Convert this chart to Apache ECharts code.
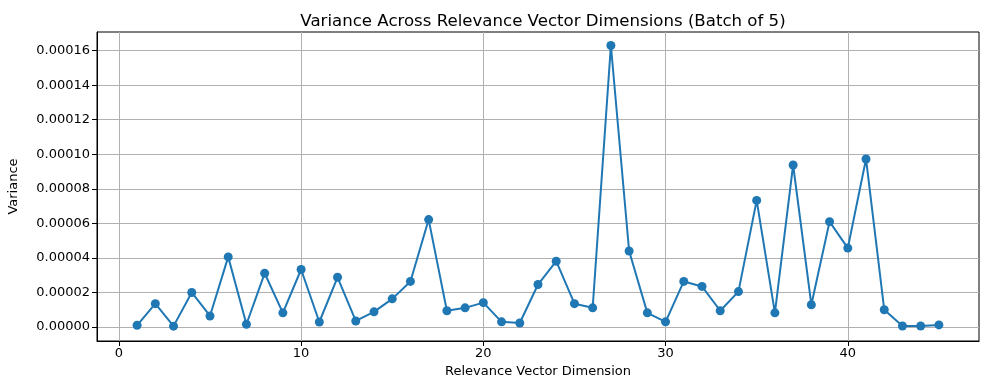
<!DOCTYPE html>
<html lang="en">
<head>
    <meta charset="UTF-8">
    <title>Variance Across Relevance Vector Dimensions</title>
    <style>
        html, body {margin: 0; padding: 0; background: #fff;}
    </style>
</head>
<body>
<div id="container" style="width: 989px; height: 390px"></div>
<script type="text/javascript" src="https://cdn.jsdelivr.net/npm/echarts@6/dist/echarts.min.js"></script>
<script type="text/javascript">
    // dimension index 1..45
    var dims = [];
    for (var i = 1; i <= 45; i++) dims.push(i);

    var variance = [
        0.0000010, 0.0000135, 0.0000005, 0.0000200, 0.0000064,
        0.0000406, 0.0000016, 0.0000311, 0.0000082, 0.0000333,
        0.0000029, 0.0000288, 0.0000035, 0.0000088, 0.0000163,
        0.0000264, 0.0000622, 0.0000094, 0.0000111, 0.0000141,
        0.0000030, 0.0000023, 0.0000246, 0.0000381, 0.0000135,
        0.0000111, 0.0001630, 0.0000440, 0.0000082, 0.0000030,
        0.0000264, 0.0000235, 0.0000094, 0.0000205, 0.0000733,
        0.0000082, 0.0000938, 0.0000129, 0.0000610, 0.0000457,
        0.0000973, 0.0000100, 0.0000006, 0.0000006, 0.0000012
    ];

    var xTicks = [0, 10, 20, 30, 40];
    var yTicks = [0, 0.00002, 0.00004, 0.00006, 0.00008, 0.0001, 0.00012, 0.00014, 0.00016];

    var points = dims.map(function (d, i) { return [d, variance[i]]; });
    var font = 'DejaVu Sans';

    var option = {
        animation: false,
        title: {
            text: 'Variance Across Relevance Vector Dimensions (Batch of 5)',
            left: 538,
            top: 8,
            textAlign: 'center',
            textStyle: {fontFamily: font, fontSize: 16.6, fontWeight: 'normal', color: '#000'}
        },
        grid: {
            left: 97, right: 10, top: 32, bottom: 49,
            containLabel: false,
            outerBoundsMode: 'none',
            show: true, borderColor: '#000', borderWidth: 1, backgroundColor: 'transparent'
        },
        xAxis: {
            type: 'value',
            min: -1.2,
            max: 47.2,
            name: 'Relevance Vector Dimension',
            nameLocation: 'middle',
            nameGap: 24,
            nameTextStyle: {fontFamily: font, fontSize: 13, color: '#000'},
            axisLine: {show: true, onZero: false, lineStyle: {color: '#000'}},
            axisTick: {show: true, length: 5, lineStyle: {color: '#000'}, customValues: xTicks},
            axisLabel: {fontFamily: font, fontSize: 13, color: '#000', margin: 6, customValues: xTicks},
            splitLine: {show: true, lineStyle: {color: '#b0b0b0', width: 1}}
        },
        yAxis: {
            type: 'value',
            min: -0.0000081,
            max: 0.0001708,
            name: 'Variance',
            nameLocation: 'middle',
            nameGap: 77,
            nameTextStyle: {fontFamily: font, fontSize: 13, color: '#000'},
            axisLine: {show: true, onZero: false, lineStyle: {color: '#000'}},
            axisTick: {show: true, length: 5, lineStyle: {color: '#000'}, customValues: yTicks},
            axisLabel: {
                fontFamily: font, fontSize: 13, color: '#000', margin: 7,
                customValues: yTicks,
                formatter: function (v) { return v.toFixed(5); }
            },
            splitLine: {show: true, lineStyle: {color: '#b0b0b0', width: 1}}
        },
        series: [
            {
                type: 'line',
                data: points,
                symbol: 'circle',
                symbolSize: 9,
                lineStyle: {color: '#1f77b4', width: 2},
                itemStyle: {color: '#1f77b4'}
            }
        ]
    };

    var myChart = echarts.init(document.getElementById('container'));
    myChart.setOption(option);
</script>
</body>
</html>
